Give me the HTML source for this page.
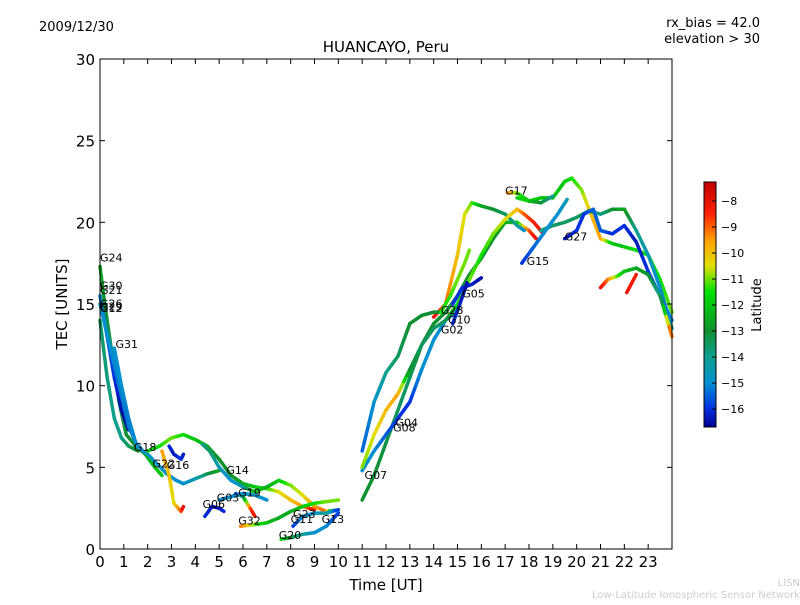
<!DOCTYPE html>
<html><head><meta charset="utf-8"><style>
body{margin:0;background:#fff;font-family:"Liberation Sans","DejaVu Sans",sans-serif}
svg text{font-family:"DejaVu Sans","Liberation Sans",sans-serif}
</style></head><body>
<svg id="c" width="800" height="600" xmlns="http://www.w3.org/2000/svg">
<defs>
<linearGradient id="cb" x1="0" y1="1" x2="0" y2="0">
<stop offset="0" stop-color="#000090"/><stop offset="0.074" stop-color="#0030e0"/><stop offset="0.18" stop-color="#0090d0"/>
<stop offset="0.286" stop-color="#10a090"/><stop offset="0.392" stop-color="#109030"/><stop offset="0.55" stop-color="#00e000"/>
<stop offset="0.657" stop-color="#e0e000"/><stop offset="0.763" stop-color="#ffa000"/><stop offset="0.87" stop-color="#ff2000"/><stop offset="1" stop-color="#c00000"/>
</linearGradient>
</defs>
<text x="39" y="31" font-size="13">2009/12/30</text>
<text x="760" y="27" font-size="13" text-anchor="end">rx_bias = 42.0</text>
<text x="760" y="43" font-size="13" text-anchor="end">elevation &gt; 30</text>
<text x="386" y="52" font-size="15" text-anchor="middle">HUANCAYO, Peru</text>
<g id="marks"></g>
<g id="labels"></g>
<rect x="100" y="59" width="572" height="490" fill="none" stroke="#000" stroke-width="1"/>
<g id="axes"></g>
<text x="386" y="590" font-size="15" text-anchor="middle">Time [UT]</text>
<text transform="translate(67,304) rotate(-90)" font-size="15" text-anchor="middle">TEC [UNITS]</text>
<rect x="704" y="182" width="12" height="245" fill="url(#cb)" stroke="#000" stroke-width="1"/>
<g id="cbt"></g>
<text transform="translate(761,305) rotate(-90)" font-size="13" text-anchor="middle">Latitude</text>
<text x="800" y="586" font-size="10" fill="#ccc" text-anchor="end">LISN</text>
<text x="800" y="598" font-size="10" fill="#ccc" text-anchor="end">Low-Latitude Ionospheric Sensor Network</text>
</svg>
<script>
const xTicks=[0,1,2,3,4,5,6,7,8,9,10,11,12,13,14,15,16,17,18,19,20,21,22,23];
const yTicks=[0,5,10,15,20,25,30];
const cbTicks=[-8,-9,-10,-11,-12,-13,-14,-15,-16];
const trackT=[
[0,0.2,0.5,0.8,1.1,1.5,1.9,2.3,2.6],
[0,0.3,0.6,0.9,1.2],
[0,0.4,0.8,1.2,1.6,2.0,2.4,2.8,3.2,3.5,4,4.5,5],
[2,2.5,3,3.5,4,4.5,5,5.5,6,6.5,7,7.5,8,8.5,9],
[2.6,2.9,3.1,3.4,3.5],
[2.9,3.1,3.4,3.5],
[4.3,4.6,5,5.5,6,6.5,7,7.5,8,8.5,9,9.5,10],
[4.4,4.7,5,5.2],
[5,5.5,6,6.5,7],
[5.7,6,6.3,6.5],
[5.9,6.5,7,7.5,8,8.5,9,9.5,10],
[7.6,8,8.5,9,9.5,10],
[8.1,8.5,9,9.5,10],
[11,11.5,12,12.5,13,13.5,14,14.5,15,15.5,16,16.5,17,17.5,18,18.3],
[11,11.5,12,12.5,13,13.5,14,14.5,15],
[14,14.5,15,15.3,15.6,16,16.5,17,17.5,17.8],
[11,11.5,12,12.5,13,13.5,14,14.5,15,15.5,16,16.5,17,17.5,17.8,18.2,18.6],
[17.5,18,18.5,19,19.5,19.8,20.2,20.6,21,21.5,22,22.5,23,23.5,24],
[18.5,19,19.5,20,20.5,21,21.5,22,22.5,23,23.5,24],
[19.5,20,20.3,20.7,21,21.5,22,22.5,23,23.5,24],
[17.7,18.2,18.7,19.2,19.6],
[17.1,17.5,18,18.5,19],
[21,21.3,21.7,22,22.5,23,23.5,24],
[22.1,22.5],
[14.8,15.2,15.6,16],
[14.8,15.1,15.4],
[11,11.5,12,12.5,13,13.5,14,14.3],
[14.3,14.7,15,15.3,15.5],
[0.6,0.9,1.2,1.5,1.8],
[0,0.3,0.6,0.9,1.2,1.6]
];
const trackV=[
[17.3,15,12,9,7,6.3,5.8,5,4.5],
[15.5,13,10.5,8.5,7.3],
[15,12.5,10,7.5,6.2,5.8,5.2,4.6,4.2,4.0,4.3,4.6,4.8],
[6,6.3,6.8,7,6.7,6.3,5.5,4.5,4,3.8,3.7,3.5,3,2.6,2.4],
[6,4.5,2.8,2.3,2.6],
[6.3,5.8,5.5,5.8],
[6.4,6,5,4.2,3.8,3.5,3.8,4.2,3.9,3.3,2.6,2.3,2.4],
[2,2.6,2.5,2.3],
[3,3.2,3.4,3.3,3],
[3.4,3.2,2.5,2.0],
[1.4,1.5,1.6,1.9,2.3,2.6,2.8,2.9,3.0],
[0.6,0.7,0.9,1.0,1.4,2.2],
[1.4,2,2.2,2.2,2.4],
[3,4.5,6.5,8.5,10.5,12.5,13.8,14.5,15.5,16.8,17.8,19,20,20,19.5,19],
[4.8,6,7,8,9,11,12.8,14,14.6],
[14.2,15,18,20.5,21.2,21,20.8,20.5,19.8,19.5],
[5,7,8.5,9.5,11,12.5,13.5,14,15,16.5,18,19.3,20.2,20.8,20.5,20,19.3],
[21.5,21.3,21.5,21.5,22.5,22.7,22,20.5,19,18.7,18.5,18.3,18,16.5,14.5],
[19.5,19.8,20,20.3,20.7,20.5,20.8,20.8,19.5,18,16,13.5],
[19,19.5,20.5,20.8,19.5,19.3,19.8,18.8,17,15.5,14],
[17.5,18.5,19.5,20.5,21.4],
[21.8,21.8,21.3,21.2,21.6],
[16,16.5,16.7,17,17.2,16.8,15.5,13],
[15.7,16.8],
[15,16,16.2,16.6],
[13.8,15,16.3],
[6,9,10.8,11.8,13.8,14.3,14.5,14.5],
[14.5,15.5,16.5,17.5,18.3],
[12.3,10,8,6.5,6],
[14,10.5,8,6.8,6.3,6.0]
];
const trackLat=[
[-12.5,-13,-13.5,-13.5,-13,-13,-12.5,-12,-12],
[-15,-15.5,-16,-16.5,-16.7],
[-15,-15,-15.2,-15.3,-15,-14.8,-14.8,-15,-15,-15,-14.5,-13.5,-12.5],
[-12,-11.5,-11,-11.5,-12,-12.5,-13,-13,-12.5,-12,-11.5,-10.5,-10,-9.5,-8],
[-9.5,-10,-10.5,-9,-8],
[-16,-16.3,-16,-16.3],
[-14,-13.5,-14.5,-15,-14.5,-12,-12.5,-12,-11,-10.5,-9.5,-9,-16],
[-16,-16.3,-16.5,-16],
[-15,-15,-15,-14.8,-15],
[-16,-14,-9,-8],
[-9,-11,-12,-12.5,-12.5,-12,-11.5,-11,-11],
[-11.5,-13,-14,-15,-15,-16],
[-16,-15,-15,-14,-16],
[-13,-13,-13.2,-13.5,-13.5,-13,-13,-13,-13,-13,-13,-13,-12.5,-12,-9,-8],
[-15,-15,-15.5,-16,-16,-15,-15,-15,-14.5],
[-8,-9,-10,-10.5,-11,-12.5,-13,-13.5,-14,-15],
[-11,-10.5,-10,-9.5,-13,-13.5,-13.5,-13.5,-11.5,-11,-11.5,-11,-10.5,-10,-9,-8.5,-8],
[-12,-11.5,-12,-12,-12,-11.5,-11,-10,-9.5,-12,-12,-11.5,-11.5,-11.5,-11],
[-14,-13.5,-13.5,-13.5,-13.5,-14,-13,-12.5,-14,-14.5,-15,-14],
[-16.5,-16,-16,-15.5,-15.5,-16,-16,-16.3,-16,-15.5,-15],
[-16,-15.5,-15,-15,-14.5],
[-9,-11,-12,-13,-14],
[-8,-9,-11,-12,-12.5,-13,-14,-8.5],
[-8,-8.5],
[-16,-16,-16.2,-16.5],
[-16,-16.2,-16.5],
[-15.5,-15,-14,-13.5,-13,-13,-13,-13],
[-11.5,-11.3,-11,-11,-11],
[-15,-15,-15.2,-15,-15],
[-13.5,-13.8,-14,-14,-13.5,-13]
];
const satNames=["G24","G30","G21","G26","G29","G12","G31","G18","G22","G16","G14","G03","G06","G19","G32","G20","G23","G11","G13","G07","G04","G08","G02","G28","G10","G05","G17","G15","G27"];
const satT=[0,0,0,0,0,0,0.65,1.42,2.2,2.8,5.3,4.9,4.3,5.8,5.8,7.5,8.1,8.0,9.3,11.1,12.4,12.3,14.3,14.3,14.6,15.2,17.0,17.9,19.5];
const satV=[17.6,15.9,15.6,14.8,14.6,14.5,12.3,6.0,5.0,4.9,4.6,2.9,2.5,3.2,1.5,0.6,1.9,1.6,1.6,4.3,7.5,7.2,13.2,14.4,13.8,15.4,21.7,17.4,18.9];
const NS='http://www.w3.org/2000/svg';
const X=t=>100+t*572/24, Y=v=>549-v*490/30;
const stops=[[-16.7,[0,0,144]],[-16,[0,48,224]],[-15,[0,144,208]],[-14,[16,160,144]],[-13,[16,144,48]],[-11.5,[0,224,0]],[-10.5,[224,224,0]],[-9.5,[255,160,0]],[-8.5,[255,32,0]],[-7.3,[192,0,0]]];
function col(l){if(l<=stops[0][0])return 'rgb('+stops[0][1]+')';for(let i=1;i<stops.length;i++){if(l<=stops[i][0]){const a=stops[i-1],b=stops[i],f=(l-a[0])/(b[0]-a[0]);return 'rgb('+a[1].map((c,k)=>Math.round(c+(b[1][k]-c)*f)).join(',')+')';}}return 'rgb('+stops[stops.length-1][1]+')';}
const marks=document.getElementById('marks');
trackT.forEach((ts,i)=>{for(let j=0;j<ts.length-1;j++){const s=4;for(let k=0;k<s;k++){const f0=k/s,f1=(k+1)/s;
const ln=document.createElementNS(NS,'line');


ln.setAttribute('x1',X(ts[j]+(ts[j+1]-ts[j])*f0));ln.setAttribute('y1',Y(trackV[i][j]+(trackV[i][j+1]-trackV[i][j])*f0));
ln.setAttribute('x2',X(ts[j]+(ts[j+1]-ts[j])*f1));ln.setAttribute('y2',Y(trackV[i][j]+(trackV[i][j+1]-trackV[i][j])*f1));
ln.setAttribute('stroke',col(trackLat[i][j]+(trackLat[i][j+1]-trackLat[i][j])*(f0+f1)/2));ln.setAttribute('stroke-width','3.5');ln.setAttribute('stroke-linecap','round');marks.appendChild(ln);}}});
const lab=document.getElementById('labels');
satNames.forEach((n,i)=>{const t=document.createElementNS(NS,'text');


t.setAttribute('x',X(satT[i]));t.setAttribute('y',Y(satV[i]));t.setAttribute('font-size','11');t.textContent=n;lab.appendChild(t);});
const ax=document.getElementById('axes');
function add(tag,attrs,txt){const e=document.createElementNS(NS,tag);for(const k in attrs)e.setAttribute(k,attrs[k]);if(txt!==undefined)e.textContent=txt;return e;}
xTicks.forEach(t=>{const l=add('line',{x1:X(t),x2:X(t),y1:549,y2:544,stroke:'#000'});

ax.appendChild(l);
const l2=add('line',{x1:X(t),x2:X(t),y1:59,y2:64,stroke:'#000'});

ax.appendChild(l2);
const tx=add('text',{x:X(t),y:567,'font-size':15,'text-anchor':'middle'},String(t));

ax.appendChild(tx);});
yTicks.forEach(v=>{const l=add('line',{x1:100,x2:105,y1:Y(v),y2:Y(v),stroke:'#000'});

ax.appendChild(l);
const l2=add('line',{x1:667,x2:672,y1:Y(v),y2:Y(v),stroke:'#000'});

ax.appendChild(l2);
const tx=add('text',{x:95,y:Y(v)+6,'font-size':15,'text-anchor':'end'},String(v));

ax.appendChild(tx);});
const cbt=document.getElementById('cbt');
const CY=l=>182+(-7.27-l)/(9.42)*245;
cbTicks.forEach(v=>{const l=add('line',{x1:712,x2:716,y1:CY(v),y2:CY(v),stroke:'#000'});

cbt.appendChild(l);
const tx=add('text',{x:721,y:CY(v)+4,'font-size':11},'\u2212'+Math.abs(v));

cbt.appendChild(tx);});
</script>
</body></html>
